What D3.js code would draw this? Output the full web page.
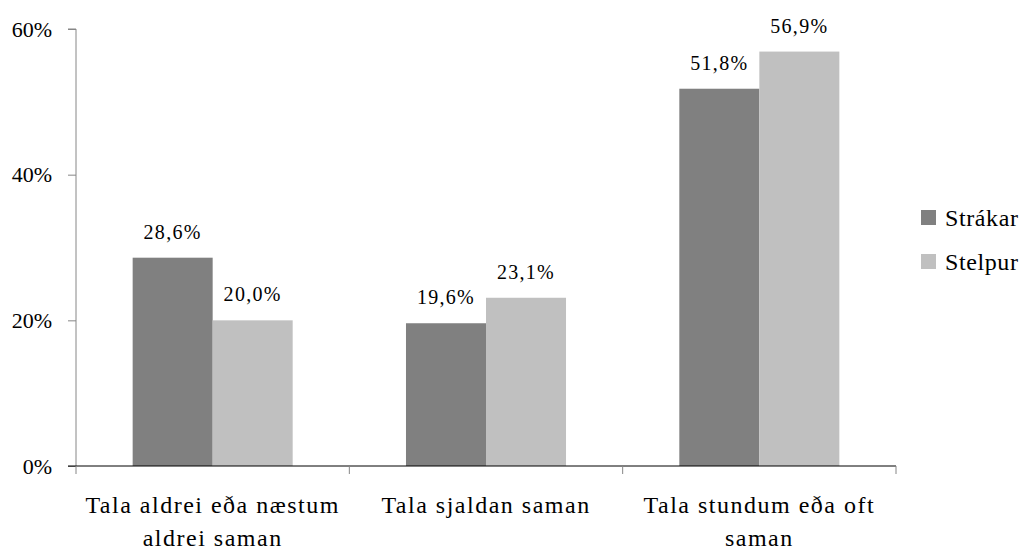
<!DOCTYPE html>
<html>
<head>
<meta charset="utf-8">
<script src="https://cdn.jsdelivr.net/npm/d3@7"></script>
</head>
<body style="margin:0">
<svg id="chart" width="1023" height="550"></svg>
<script>
const categories = [
  ["Tala aldrei eða næstum", "aldrei saman"],
  ["Tala sjaldan saman"],
  ["Tala stundum eða oft", "saman"]
];
const seriesNames = ["Strákar", "Stelpur"];
const strakar = [0.286, 0.196, 0.518];
const stelpur = [0.200, 0.231, 0.569];
const yTicks = [0, 0.2, 0.4, 0.6];
const colors = ["#808080", "#c0c0c0"];
const FONT = '"Liberation Serif", "Times New Roman", serif';

const svg = d3.select("#chart");
const seriesValues = [strakar, stelpur];
const catIdx = categories.map((d, i) => i);

const x0 = d3.scaleBand().domain(catIdx).range([76, 896]).padding(0);
const x1 = d3.scaleBand().domain(seriesNames).range([0, x0.bandwidth()])
  .paddingInner(0).paddingOuter(0.708);
const y = d3.scaleLinear().domain([0, 0.6]).range([466, 29]);

const fmt = v => (v * 100).toFixed(1).replace(".", ",") + "%";

function serif(sel, size, spacing) {
  sel.style("font-family", FONT, "important")
     .style("font-size", size + "px", "important")
     .style("letter-spacing", spacing + "px", "important");
  return sel;
}

// bars
const groups = svg.append("g").selectAll("g").data(catIdx).join("g")
  .attr("transform", i => `translate(${x0(i)},0)`);

seriesNames.forEach((s, si) => {
  groups.append("rect")
    .attr("x", x1(s))
    .attr("width", x1.bandwidth())
    .attr("y", i => y(seriesValues[si][i]))
    .attr("height", i => y(0) - y(seriesValues[si][i]))
    .attr("fill", colors[si]);
  serif(groups.append("text")
    .attr("x", x1(s) + x1.bandwidth() / 2)
    .attr("y", i => y(seriesValues[si][i]) - 19)
    .attr("text-anchor", "middle"), 20, 1.3)
    .text(i => fmt(seriesValues[si][i]));
});

// y axis
const yAxis = svg.append("g").attr("transform", "translate(76,0)")
  .call(d3.axisLeft(y).tickValues(yTicks).tickFormat(d => Math.round(d * 100) + "%").tickSize(8).tickPadding(16));
yAxis.attr("font-family", null).attr("font-size", null);
yAxis.select(".domain").attr("stroke", "#868686").attr("d", `M-8,${y(0.6)}H0V${y(0)}`);
yAxis.selectAll(".tick line").attr("stroke", "#868686");
serif(yAxis.selectAll(".tick text"), 22, 0).attr("fill", "#000");

// x axis
const xAxisG = svg.append("g").attr("transform", `translate(0,${y(0)})`);
xAxisG.append("line").attr("x1", 68).attr("x2", 896).attr("y1", 0).attr("y2", 0).attr("stroke", "#000");
const bounds = catIdx.map(i => x0(i)).concat([x0(catIdx[catIdx.length - 1]) + x0.bandwidth()]);
xAxisG.selectAll("line.t").data(bounds).join("line").attr("class", "t")
  .attr("x1", d => d).attr("x2", d => d).attr("y1", 0).attr("y2", 8).attr("stroke", "#868686");

// category labels
const catLabels = serif(svg.append("g").selectAll("text").data(catIdx).join("text")
  .attr("x", i => x0(i) + x0.bandwidth() / 2)
  .attr("y", 513)
  .attr("text-anchor", "middle"), 24, 1.5);
catLabels.each(function(i) {
  const t = d3.select(this);
  categories[i].forEach((line, li) => {
    serif(t.append("tspan").attr("x", x0(i) + x0.bandwidth() / 2).attr("dy", li === 0 ? 0 : 33), 24, 1.5).text(line);
  });
});

// legend
const legend = svg.append("g").selectAll("g").data(seriesNames).join("g")
  .attr("transform", (d, i) => `translate(921,${210 + i * 44})`);
legend.append("rect").attr("width", 15).attr("height", 15).attr("fill", (d, i) => colors[i]);
serif(legend.append("text").attr("x", 24).attr("y", 16), 24, 0.6).text(d => d);
</script>
</body>
</html>
